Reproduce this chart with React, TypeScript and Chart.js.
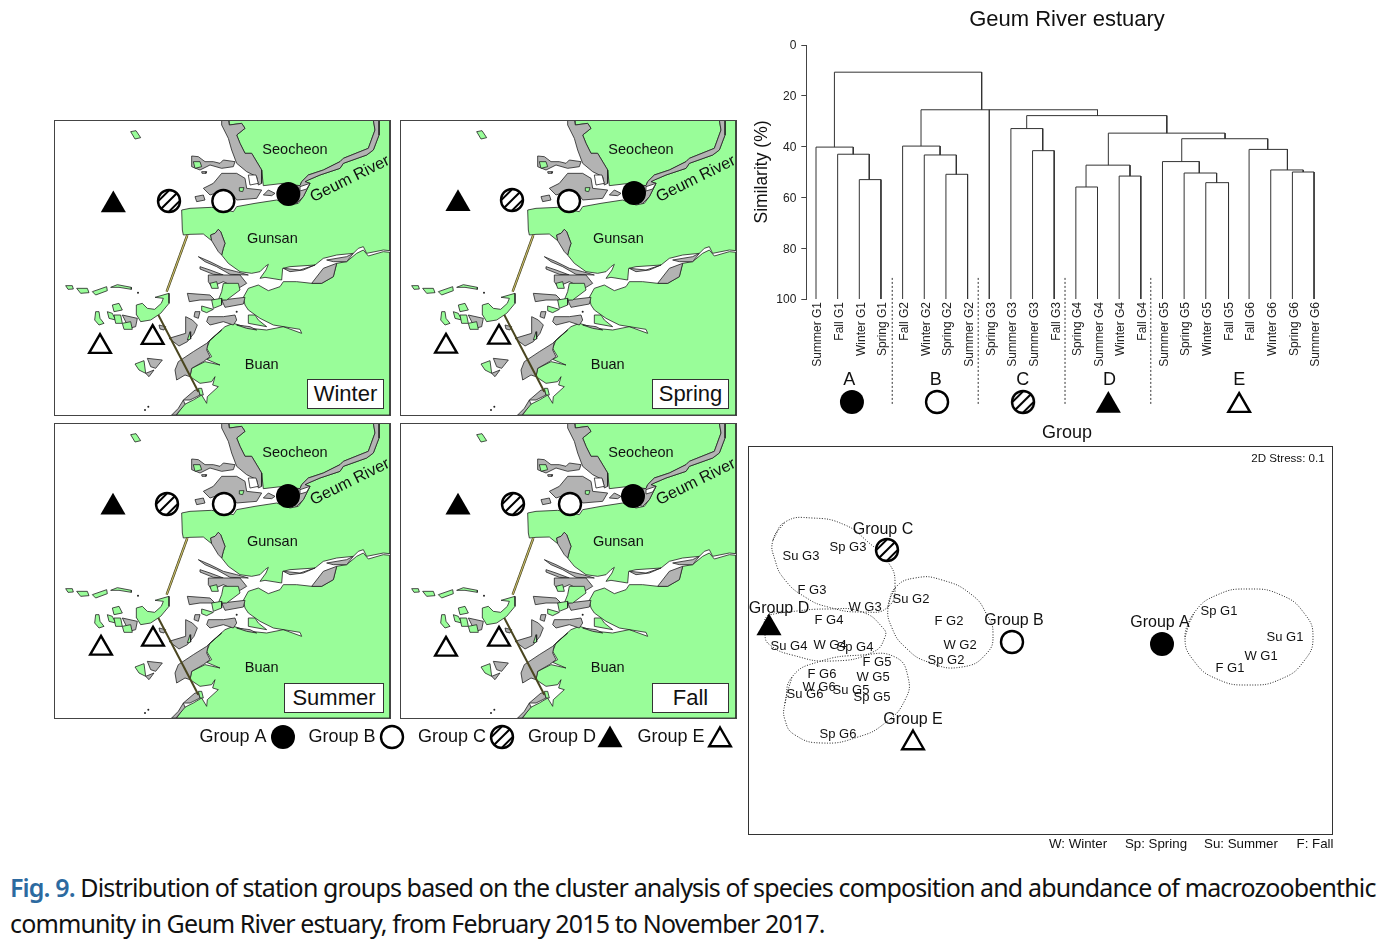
import React, { useEffect, useRef } from "react";
import { Chart, registerables } from "chart.js";

Chart.register(...registerables);
Chart.defaults.font.family = "'Liberation Sans', Arial, sans-serif";

type P = [number, number];

/* ---------- map outlines (map units) ---------- */
const seocheonLand: P[] = [[538,15],[970,15],[975,45],[955,100],[880,130],[870,140],[820,165],[775,180],[755,200],[750,212],[700,205],[640,212],[635,165],[605,115],[585,115],[570,85],[560,60],[585,40],[575,25],[538,30]];
const gunsanLand: P[] = [[395,285],[420,280],[485,277],[550,290],[560,275],[615,265],[680,255],[720,270],[745,265],[760,245],[780,205],[765,200],[775,195],[810,180],[870,160],[880,145],[950,120],[970,105],[987,60],[987,15],[1020,15],[1020,407],[1000,405],[950,415],[940,395],[925,400],[910,415],[860,420],[820,430],[795,450],[720,455],[698,460],[695,495],[645,487],[630,490],[648,465],[655,448],[645,455],[630,470],[605,475],[570,470],[535,445],[515,420],[520,400],[525,385],[512,350],[505,343],[495,355],[482,360],[485,377],[460,357],[420,358],[400,360],[397,345]];
const buanLand: P[] = [[580,547],[595,520],[625,510],[655,527],[690,515],[700,500],[740,500],[785,505],[815,505],[850,485],[860,445],[890,440],[920,415],[940,405],[955,423],[1000,410],[1020,412],[1020,900],[380,900],[400,870],[430,855],[455,840],[470,865],[472,845],[505,815],[488,810],[495,785],[485,800],[450,805],[420,785],[425,760],[465,740],[510,750],[470,733],[485,725],[470,700],[480,675],[525,635],[550,625],[600,640],[650,645],[700,635],[755,655],[750,643],[670,630],[630,610],[595,585],[585,570]];
const greyFlats: P[][] = [
  [[515,15],[535,15],[538,30],[575,25],[585,40],[560,60],[570,85],[585,115],[605,115],[635,165],[635,205],[625,210],[620,185],[590,170],[560,145],[545,105],[535,70],[515,30]],
  [[970,15],[987,15],[987,60],[970,105],[950,120],[880,145],[870,160],[810,180],[775,195],[765,200],[780,205],[760,245],[740,265],[700,255],[690,215],[750,212],[755,200],[775,180],[820,165],[870,140],[880,130],[955,100],[975,45]],
  [[460,220],[490,205],[515,175],[560,175],[585,190],[590,220],[635,225],[620,250],[560,255],[550,240],[510,230],[480,240]],
  [[425,123],[445,125],[465,140],[490,140],[510,145],[520,135],[555,140],[550,155],[515,160],[480,150],[450,165],[425,155]],
  [[435,245],[460,240],[465,255],[440,260]],
  [[455,170],[470,170],[468,175],[456,175]],
  [[640,240],[655,225],[675,235],[665,242]],
  [[482,360],[495,355],[505,343],[512,350],[525,385],[520,400],[515,420],[505,410],[485,377]],
  [[445,425],[480,440],[520,460],[560,470],[595,480],[540,478],[500,455],[465,440]],
  [[450,455],[480,465],[520,480],[490,478],[450,462]],
  [[475,480],[520,480],[570,480],[590,505],[565,520],[520,500],[485,515],[475,500]],
  [[412,535],[480,540],[495,555],[450,555],[418,560]],
  [[515,555],[585,547],[580,567],[525,577]],
  [[475,605],[520,605],[555,600],[560,615],[550,630],[520,620],[480,630],[470,620]],
  [[435,590],[450,590],[445,610],[432,605]],
  [[560,630],[600,635],[620,645],[590,640]],
  [[407,605],[427,615],[442,630],[432,655],[412,680],[387,693],[357,670],[407,655]],
  [[327,630],[347,635],[342,645],[330,642]],
  [[375,765],[385,740],[430,710],[470,685],[515,645],[475,680],[470,705],[480,725],[460,740],[425,760],[420,785],[405,780],[380,795]],
  [[435,825],[445,825],[450,840],[420,855],[400,855]],
  [[400,855],[385,880],[365,900],[378,900],[405,868]],
  [[217,600],[262,610],[257,635],[237,640]],
  [[292,730],[337,735],[317,760],[302,755]],
  [[287,775],[312,765],[297,785]],
  [[785,505],[820,460],[860,445],[850,485],[815,505]],
  [[700,460],[750,465],[795,450],[760,465],[720,470]],
  [[830,435],[890,425],[910,415],[890,440],[850,440]],
];
const greenIslands: P[][] = [
  [[242,50],[258,47],[272,68],[255,72]],
  [[47,512],[67,512],[70,522],[54,523]],
  [[80,520],[112,520],[117,533],[92,535]],
  [[127,530],[170,515],[172,527],[137,540]],
  [[182,517],[202,509],[244,517],[244,523],[207,517]],
  [[259,570],[277,565],[292,580],[314,583],[334,565],[340,550],[315,547],[357,535],[357,565],[332,595],[302,615],[272,620],[260,600]],
  [[137,590],[147,590],[150,610],[162,625],[147,630],[134,615]],
  [[187,570],[207,565],[217,585],[192,590]],
  [[172,590],[187,595],[197,615],[177,610]],
  [[192,600],[212,600],[217,625],[197,625]],
  [[217,625],[242,620],[247,643],[222,643]],
  [[255,747],[282,737],[287,775],[267,765]],
  [[430,140],[450,140],[455,155],[435,160]],
  [[568,218],[582,218],[578,230],[568,228]],
  [[520,505],[565,505],[570,525],[530,555],[505,555],[515,530]],
  [[480,505],[500,500],[505,520],[485,520]],
  [[485,555],[515,550],[515,570],[490,580]],
  [[455,573],[490,583],[470,593],[455,587]],
  [[595,600],[615,600],[625,615],[650,635],[595,625]],
  [[445,820],[455,820],[460,840],[450,840]],
  [[412,675],[420,650],[422,672]],
];
const whitePatches: P[][] = [
  [[750,215],[780,205],[770,222],[750,228]],
  [[595,180],[618,180],[625,205],[600,210]],
];
const seawallNorth: P[] = [[412,360],[350,530]];
const seawallSouth: P[] = [[325,600],[445,830]];
const mapDots: P[] = [[285,885],[295,875],[264,533],[560,590]];

/* ---------- station group markers per season ---------- */
const seasons = ["Winter", "Spring", "Summer", "Fall"];
const groupAMap: P[] = [[715,237],[714,234],[714,234],[711,234]];
const groupBMap: P[] = [[520,258],[519,258],[522,258],[522,258]];
const groupCMap: P[] = [[357,258],[348,255],[351,258],[351,258]];
const groupDMap: P[] = [[190,270],[186,266],[189,268],[186,268]];
const groupE1Map: P[] = [[150,695],[150,694],[153,691],[150,694]];
const groupE2Map: P[] = [[308,668],[309,667],[309,664],[309,664]];
const placeNames: [string, number, number][] = [["Seocheon",735,105],["Gunsan",667,372],["Buan",635,750]];
const riverName = "Geum River";

/* ---------- dendrogram ---------- */
const leafLabels = ["Summer G1","Fall G1","Winter G1","Spring G1","Fall G2","Winter G2","Spring G2","Summer G2","Spring G3","Summer G3","Summer G3","Fall G3","Spring G4","Summer G4","Winter G4","Fall G4","Summer G5","Spring G5","Winter G5","Fall G5","Fall G6","Winter G6","Spring G6","Summer G6"];
// left x, left lower similarity, join similarity, right x, right lower similarity
const dendroLinks: number[][] = [
  [0.85,40.2,10.7,7.65,25.5],
  [0,100,40.2,1.72,43],[1,100,43,2.46,53],[2,100,53,3,100],
  [4.85,39.8,25.5,13,27.8],[8,100,25.5,8,100],
  [4,100,39.8,5.73,43.3],[5,100,43.3,6.48,50.9],[6,100,50.9,7,100],
  [9.73,32.9,27.8,16.2,34.7],[9,100,32.9,10.47,41.6],[10,100,41.6,11,100],
  [13.5,47.3,34.7,18.89,36.9],[12.47,55.9,47.3,14.5,51.6],[12,100,55.9,13,100],[14,100,51.6,15,100],
  [16.89,45.9,36.9,20.86,41.1],[16,100,45.9,17.7,50.4],[17,100,50.4,18.5,54.2],[18,100,54.2,19.05,100],
  [20,100,41.1,21.77,49.2],[21,100,49.2,22.5,50],[22,100,50,23,100],
];
const groupDividers = [3.52,7.49,11.5,15.46];
const dividerTop = 91.7;
const dividerBottom = 141.6;
const groupLetters: [string, number][] = [["A",1.53],["B",5.53],["C",9.55],["D",13.55],["E",19.54]];
const keyA: P[] = [[1.66,34]];
const keyB: P[] = [[5.59,34]];
const keyC: P[] = [[9.56,34]];
const keyD: P[] = [[13.5,37.6]];
const keyE: P[] = [[19.54,37.6]];
const dendroTitle = "Geum River estuary";

/* ---------- nMDS ordination ---------- */
const stationNames: [string, number, number][] = [
  ["Su G3",53,110],["Sp G3",100,101],["F G3",64,144],["W G3",117,161],
  ["Su G2",163,153],["F G2",201,175],["W G2",212,199],["Sp G2",198,214],
  ["F G4",81,174],["Su G4",41,200],["W G4",82,199],["Sp G4",107,201],
  ["F G5",129,216],["W G5",125,231],["Su G5",103,244],["Sp G5",124,251],
  ["F G6",74,228],["W G6",71,241],["Su G6",57,248],["Sp G6",90,288],
  ["Sp G1",471,165],["Su G1",537,191],["W G1",513,210],["F G1",482,222],
];
const ordGroupNames: [string, number, number][] = [["Group C",135,84],["Group D",31,163],["Group B",266,175],["Group A",412,177],["Group E",165,274]];
const ordA: P[] = [[414,198]];
const ordB: P[] = [[264,196]];
const ordC: P[] = [[139,104]];
const ordD: P[] = [[21,182]];
const ordE: P[] = [[165,297]];
const blobA: P[] = [[437,191],[446,167],[469,149],[501,143],[533,149],[556,167],[565,191],[556,215],[533,233],[501,239],[469,233],[446,215]];
const blobB: P[] = [[140,161],[147,142],[167,132],[194,134],[224,149],[239,169],[245,187],[239,207],[214,221],[180,216],[157,201],[144,182]];
const blobC: P[] = [[25,94],[37,76],[64,72],[97,79],[120,96],[140,116],[147,137],[140,161],[114,166],[80,161],[57,151],[37,134],[27,114]];
const blobD: P[] = [[20,169],[40,166],[80,163],[114,166],[135,182],[137,191],[125,206],[84,215],[44,209],[22,199],[17,189]];
const blobE: P[] = [[37,257],[44,231],[70,216],[114,209],[147,211],[160,231],[157,254],[137,277],[110,291],[74,297],[47,289],[37,274]];
const stressNote = "2D Stress: 0.1";
const seasonKey: [string, number][] = [["W: Winter",330],["Sp: Spring",408],["Su: Summer",493],["F: Fall",567]];

/* ---------- shared legend ---------- */
const legendNames: [string, number][] = [["Group A",233],["Group B",342],["Group C",452],["Group D",562],["Group E",671]];
const legendSymbols = [283,392,502,610,720];

/* ---------- helpers ---------- */
const xy = (pts: P[]) => pts.map(([x, y]) => ({ x, y }));
const closed = (pts: P[]) => xy([...pts, pts[0]]);

function shape(pts: P[], color: string, line = "#222", width = 0.8) {
  return { showLine: true, fill: "shape", backgroundColor: color, borderColor: line, borderWidth: width, pointRadius: 0, data: closed(pts) };
}
function stroke(pts: P[], color: string, width: number, extra: object = {}) {
  return { showLine: true, fill: false, borderColor: color, borderWidth: width, pointRadius: 0, data: xy(pts), ...extra };
}
function hatchStyle(r: number) {
  const c = document.createElement("canvas");
  const s = Math.ceil(r * 2 + 4);
  c.width = s; c.height = s;
  const g = c.getContext("2d")!;
  const m = s / 2;
  g.beginPath(); g.arc(m, m, r - 1, 0, Math.PI * 2); g.fillStyle = "#fff"; g.fill();
  g.save(); g.clip();
  g.strokeStyle = "#000"; g.lineWidth = 2;
  for (const d of [-r * 0.62, 0, r * 0.62]) {
    g.beginPath();
    g.moveTo(m - r + d * 0.71, m + r + d * 0.71);
    g.lineTo(m + r + d * 0.71, m - r + d * 0.71);
    g.stroke();
  }
  g.restore();
  g.beginPath(); g.arc(m, m, r - 1, 0, Math.PI * 2); g.lineWidth = 2.4; g.stroke();
  return c;
}
function symbol(kind: string, pts: P[], r = 11.5) {
  const base = { showLine: false, data: xy(pts) };
  if (kind === "A") return { ...base, pointStyle: "circle", pointRadius: r + 0.5, backgroundColor: "#000", borderColor: "#000", borderWidth: 0 };
  if (kind === "B") return { ...base, pointStyle: "circle", pointRadius: r - 0.5, backgroundColor: "#fff", borderColor: "#000", borderWidth: 2.4 };
  if (kind === "C") return { ...base, pointStyle: hatchStyle(r + 0.5), pointRadius: r };
  if (kind === "D") return { ...base, pointStyle: "triangle", pointRadius: r + 3, backgroundColor: "#000", borderColor: "#000", borderWidth: 0 };
  return { ...base, pointStyle: "triangle", pointRadius: r + 1, backgroundColor: "#fff", borderColor: "#000", borderWidth: 2.4 };
}
function layered(list: any[]) {
  return list.map((d, i) => ({ ...d, order: list.length - i }));
}
type TextItem = { text: string; x: number; y: number; font: string; rotate?: number };
const textPlugin = (items: TextItem[]) => ({
  id: "textMarks",
  afterDatasetsDraw(chart: any) {
    const { ctx, scales } = chart;
    ctx.save();
    ctx.fillStyle = "#111";
    ctx.textAlign = "center";
    ctx.textBaseline = "middle";
    for (const t of items) {
      ctx.save();
      ctx.translate(scales.x.getPixelForValue(t.x), scales.y.getPixelForValue(t.y));
      if (t.rotate) ctx.rotate(t.rotate);
      ctx.font = t.font;
      ctx.fillText(t.text, 0, 0);
      ctx.restore();
    }
    ctx.restore();
  },
});
const framePlugin = (color: string) => ({
  id: "frame",
  afterDatasetsDraw(chart: any) {
    const { ctx, chartArea: a } = chart;
    ctx.save();
    ctx.strokeStyle = color;
    ctx.lineWidth = 1;
    ctx.strokeRect(a.left + 0.5, a.top + 0.5, a.width, a.height);
    ctx.restore();
  },
});
const ff = "'Liberation Sans', Arial, sans-serif";
const hiddenScale = (min: number, max: number, reverse = false) => ({ type: "linear", display: false, min, max, reverse });
const baseOptions = {
  responsive: false,
  animation: false,
  events: [],
  plugins: { legend: { display: false }, tooltip: { enabled: false }, title: { display: false } },
};

function ChartCanvas({ left, top, width, height, build }: { left: number; top: number; width: number; height: number; build: () => any }) {
  const ref = useRef<HTMLCanvasElement>(null);
  useEffect(() => {
    const chart = new Chart(ref.current!, build());
    return () => chart.destroy();
  }, []);
  return <canvas ref={ref} width={width} height={height} style={{ position: "absolute", left, top, width, height }} />;
}

function mapConfig(i: number) {
  const datasets = layered([
    shape(seocheonLand, "#99fd99"),
    shape(gunsanLand, "#99fd99"),
    shape(buanLand, "#99fd99"),
    ...greyFlats.map((p) => shape(p, "#b3b3b3")),
    ...whitePatches.map((p) => shape(p, "#ffffff")),
    ...greenIslands.map((p) => shape(p, "#99fd99")),
    stroke(seawallNorth, "#3a3a18", 2.4),
    stroke(seawallNorth, "#c9bb6a", 1.2),
    stroke(seawallSouth, "#4a4620", 2),
    { showLine: false, data: xy(mapDots), pointRadius: 1, backgroundColor: "#222", borderWidth: 0 },
    symbol("A", [groupAMap[i]]),
    symbol("B", [groupBMap[i]]),
    symbol("C", [groupCMap[i]]),
    symbol("D", [groupDMap[i]]),
    symbol("E", [groupE1Map[i], groupE2Map[i]]),
  ]);
  const items: TextItem[] = [
    ...placeNames.map(([text, x, y]) => ({ text, x, y, font: `14.5px ${ff}` })),
    { text: riverName, x: 900, y: 192, font: `16.2px ${ff}`, rotate: -0.46 },
  ];
  return {
    type: "scatter",
    data: { datasets },
    options: {
      ...baseOptions,
      layout: { autoPadding: false, padding: 1 },
      scales: { x: hiddenScale(12, 1020), y: hiddenScale(15, 900, true) },
    },
    plugins: [textPlugin(items), framePlugin("#444")],
  };
}

function dendroConfig() {
  const links = dendroLinks.map(([xa, ya, top, xb, yb]) =>
    stroke([[xa, ya], [xa, top], [xb, top], [xb, yb]], "#333", 1, { clip: false })
  );
  const dividers = groupDividers.map((x) =>
    stroke([[x, dividerTop], [x, dividerBottom]], "#333", 1, { clip: false, borderDash: [2, 2] })
  );
  return {
    type: "scatter",
    data: { datasets: layered([...links, ...dividers]) },
    options: {
      ...baseOptions,
      layout: { autoPadding: false, padding: { left: 0, right: 61.3, top: 45, bottom: 0 } },
      scales: {
        x: {
          type: "linear", min: -0.448, max: 23.63,
          afterBuildTicks: (a: any) => { a.ticks = leafLabels.map((_, i) => ({ value: i })); },
          afterFit: (s: any) => { s.height = 146; },
          grid: { display: false, drawTicks: false },
          border: { display: false },
          ticks: {
            autoSkip: false, minRotation: 90, maxRotation: 90, padding: 3, labelOffset: 2, color: "#222",
            font: { size: 12 }, callback: (v: number) => leafLabels[v],
          },
          title: { display: true, text: "Group", color: "#111", font: { size: 18 }, padding: { top: 0, bottom: 1 } },
        },
        y: {
          type: "linear", min: 0, max: 100, reverse: true,
          afterFit: (s: any) => { s.width = 61.3; },
          grid: { drawOnChartArea: false, drawTicks: true, tickLength: 5, color: "#444" },
          border: { color: "#444" },
          ticks: { stepSize: 20, color: "#222", padding: 5, labelOffset: 1, font: { size: 12 } },
          title: { display: true, text: "Similarity (%)", color: "#111", font: { size: 17.5 }, padding: { top: 7, bottom: 0 } },
        },
      },
    },
    plugins: [textPlugin([{ text: dendroTitle, x: 11.59, y: -10, font: `22px ${ff}` }])],
  };
}

function keyConfig() {
  return {
    type: "scatter",
    data: { datasets: layered([symbol("A", keyA), symbol("B", keyB), symbol("C", keyC), symbol("D", keyD), symbol("E", keyE)]) },
    options: {
      ...baseOptions,
      layout: { autoPadding: false, padding: { left: 61.3, right: 61.3 } },
      scales: { x: hiddenScale(-0.448, 23.63), y: hiddenScale(0, 52, true) },
    },
    plugins: [textPlugin(groupLetters.map(([text, x]) => ({ text, x, y: 12, font: `18px ${ff}` })))],
  };
}

function ordConfig() {
  const blobs = [blobA, blobB, blobC, blobD, blobE].map((b) => ({
    showLine: true, fill: false, tension: 0.5, borderColor: "#222", borderWidth: 1, borderDash: [1, 1.6], pointRadius: 0,
    data: xy([...b, b[0], b[1]]),
  }));
  const items: TextItem[] = [
    ...stationNames.map(([text, x, y]) => ({ text, x, y, font: `13px ${ff}` })),
    ...ordGroupNames.map(([text, x, y]) => ({ text, x, y, font: `16px ${ff}` })),
    { text: stressNote, x: 540, y: 12.5, font: `11.6px ${ff}` },
    ...seasonKey.map(([text, x]) => ({ text, x, y: 398.5, font: `13.3px ${ff}` })),
  ];
  return {
    type: "scatter",
    data: { datasets: layered([...blobs, symbol("A", ordA), symbol("B", ordB), symbol("C", ordC), symbol("D", ordD), symbol("E", ordE)]) },
    options: {
      ...baseOptions,
      layout: { autoPadding: false, padding: { left: 10, right: 10, top: 10, bottom: 24 } },
      scales: { x: hiddenScale(0, 584), y: hiddenScale(0, 388, true) },
    },
    plugins: [textPlugin(items), framePlugin("#333")],
  };
}

function legendConfig() {
  const kinds = ["A", "B", "C", "D", "E"];
  return {
    type: "scatter",
    data: {
      datasets: layered(kinds.map((k, i) => symbol(k, [[legendSymbols[i], k === "D" || k === "E" ? 20 : 17]]))),
    },
    options: {
      ...baseOptions,
      layout: { autoPadding: false },
      scales: { x: hiddenScale(190, 740), y: hiddenScale(0, 36, true) },
    },
    plugins: [textPlugin(legendNames.map(([text, x]) => ({ text, x, y: 17.5, font: `18px ${ff}` })))],
  };
}

const panels = [
  { left: 53, top: 119, box: [254, 260, 77, 30] },
  { left: 399, top: 119, box: [253, 260, 77, 30] },
  { left: 53, top: 422, box: [231, 261, 100, 30] },
  { left: 399, top: 422, box: [253, 261, 77, 30] },
];

export default function App() {
  return (
    <div style={{ position: "absolute", left: 0, top: 0, width: 1395, height: 943, background: "#fff", overflow: "hidden", fontFamily: ff }}>
      {panels.map((p, i) => (
        <React.Fragment key={seasons[i]}>
          <ChartCanvas left={p.left} top={p.top} width={338} height={297} build={() => mapConfig(i)} />
          <div style={{
            position: "absolute", left: p.left + p.box[0], top: p.top + p.box[1], width: p.box[2], height: p.box[3],
            boxSizing: "border-box", border: "1px solid #333", background: "#fff", textAlign: "center",
            fontSize: 22, lineHeight: "28px", color: "#111",
          }}>{seasons[i]}</div>
        </React.Fragment>
      ))}
      <ChartCanvas left={190} top={720} width={550} height={36} build={legendConfig} />
      <ChartCanvas left={745} top={0} width={644} height={445} build={dendroConfig} />
      <ChartCanvas left={745} top={368} width={644} height={52} build={keyConfig} />
      <ChartCanvas left={738} top={436} width={604} height={422} build={ordConfig} />
      <div style={{
        position: "absolute", left: 10, top: 869, width: 1385, color: "#111",
        fontFamily: "'Noto Sans', sans-serif", fontSize: 25, lineHeight: "36px", letterSpacing: "-0.87px", whiteSpace: "nowrap",
      }}>
        <span style={{ color: "#2c6aa0", fontWeight: 600 }}>Fig. 9.</span> Distribution of station groups based on the cluster analysis of species composition and abundance of macrozoobenthic
        <br />community in Geum River estuary, from February 2015 to November 2017.
      </div>
    </div>
  );
}
